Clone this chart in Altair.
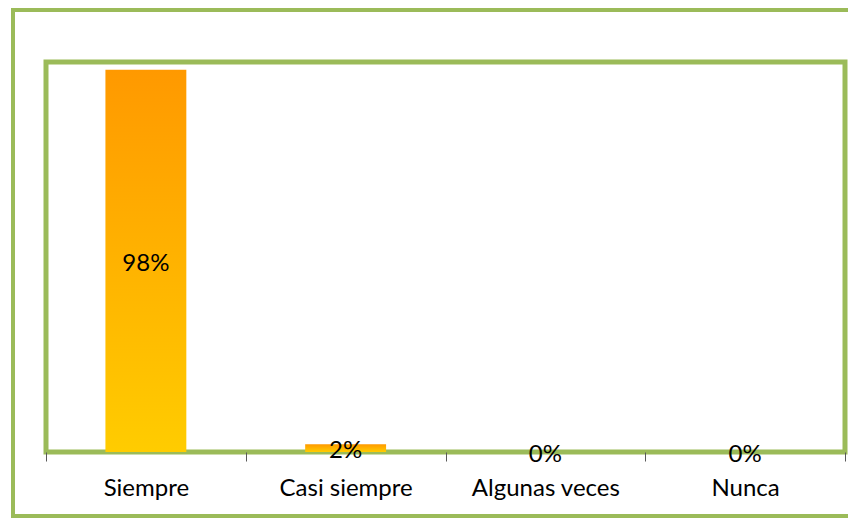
import altair as alt
import pandas as pd

categories = ["Siempre", "Casi siempre", "Algunas veces", "Nunca"]
values = [98, 2, 0, 0]
labels = ["98%", "2%", "0%", "0%"]

df = pd.DataFrame({"cat": categories, "value": values, "label": labels})

GREEN = "#9BBB59"
FONT = "Lato"

x_enc = alt.X("cat:N", sort=categories, title=None,
              scale=alt.Scale(paddingInner=0, paddingOuter=0),
              axis=alt.Axis(labelAngle=0, labelFontSize=24, labelFont=FONT,
                            labelColor="#000000", domain=False, ticks=True,
                            tickBand="extent", tickColor="#595959", tickSize=9,
                            tickWidth=1, labelPadding=15, grid=False))
y_scale = alt.Scale(domain=[0, 100])

grad = alt.Gradient(gradient="linear",
                    stops=[alt.GradientStop(color="#FF9900", offset=0),
                           alt.GradientStop(color="#FFCC00", offset=1)],
                    x1=0, x2=0, y1=0, y2=1)

bars = alt.Chart(df).mark_bar(color=grad, width=alt.RelativeBandSize(0.405)).encode(
    x=x_enc,
    y=alt.Y("value:Q", scale=y_scale, axis=None),
)

text = alt.Chart(df).transform_calculate(mid="datum.value / 2").mark_text(
    font=FONT, fontSize=24, color="#000000", baseline="middle", dy=3
).encode(
    x=alt.X("cat:N", sort=categories),
    y=alt.Y("mid:Q", scale=y_scale),
    text="label:N",
)

frame = alt.Chart(df).mark_rect(filled=False, stroke=GREEN, strokeWidth=4, clip=False).encode(
    x=alt.value(-33), x2=alt.value(820), y=alt.value(-52), y2=alt.value(454)
)

chart = alt.layer(frame, bars, text).properties(
    width=799, height=390,
    autosize=alt.AutoSizeParams(type="none"),
    padding={"left": 38, "top": 54, "right": 3, "bottom": 66},
).configure_view(stroke=GREEN, strokeWidth=5)

chart.save("out.html", embed_options={"renderer": "svg", "actions": False})
